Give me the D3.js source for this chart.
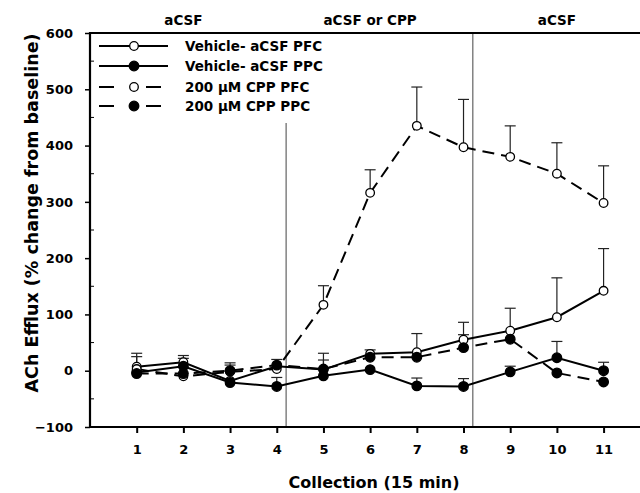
<!DOCTYPE html>
<html>
<head>
<meta charset="utf-8">
<script src="https://cdn.jsdelivr.net/npm/d3@7"></script>
<style>
  body { margin: 0; background: #fff; }
  text { font-family: "DejaVu Sans", sans-serif; font-weight: bold; fill: #000; }
</style>
</head>
<body>
<svg id="chart" width="640" height="493"></svg>
<script>
// collections (15 min each)
const collections = [1, 2, 3, 4, 5, 6, 7, 8, 9, 10, 11]
const yTicks = [-100, 0, 100, 200, 300, 400, 500, 600]

// % change from baseline (err = upper SEM bar, 0 = none shown)
const vehPFC    = [7, 15, -18, 8, 2, 30, 33, 55, 71, 95, 142]
const vehPFCerr = [24, 12, 0, 0, 29, 7, 33, 31, 40, 70, 75]
const vehPPC    = [-3, 8, -21, -28, -9, 2, -27, -28, -2, 23, 0]
const vehPPCerr = [0, 14, 0, 16, 0, 0, 14, 14, 10, 29, 15]
const cppPFC    = [3, -10, -2, 3, 117, 316, 435, 397, 380, 350, 298]
const cppPFCerr = [22, 0, 16, 0, 34, 41, 69, 85, 55, 55, 66]
const cppPPC    = [-5, -5, 0, 10, 3, 24, 24, 41, 56, -4, -20]
const cppPPCerr = [0, 0, 10, 10, 16, 0, 0, 23, 0, 0, 0]

const seriesNames = ["Vehicle- aCSF PFC", "Vehicle- aCSF PPC", "200 \u00b5M CPP PFC", "200 \u00b5M CPP PPC"]

// perfusion phases
const phaseBreaks = [4.2, 8.2]
const phaseNames = ["aCSF", "aCSF or CPP", "aCSF"]
const phaseCenters = [2, 6, 10]

const series = [
  { name: seriesNames[0], vals: vehPFC, err: vehPFCerr, dashed: false, filled: false },
  { name: seriesNames[1], vals: vehPPC, err: vehPPCerr, dashed: false, filled: true },
  { name: seriesNames[2], vals: cppPFC, err: cppPFCerr, dashed: true, filled: false },
  { name: seriesNames[3], vals: cppPPC, err: cppPPCerr, dashed: true, filled: true }
]

const svg = d3.select('#chart')
svg.append('rect').attr('width', 640).attr('height', 493).attr('fill', '#fff')

const plotL = 90, plotR = 640, plotT = 33, plotB = 427

const x = d3.scaleLinear().domain([0, 11.78]).range([plotL, plotR])
const y = d3.scaleLinear().domain([-100, 600]).range([plotB, plotT])

// phase divider lines
svg.selectAll('.phase').data(phaseBreaks).enter().append('line')
  .attr('x1', d => x(d)).attr('x2', d => x(d))
  .attr('y1', (d, i) => i == 0 ? 123 : plotT).attr('y2', plotB)
  .attr('stroke', '#444').attr('stroke-width', 1)

// phase labels on top
svg.selectAll('.phaseLabel').data(phaseNames).enter().append('text')
  .attr('x', (d, i) => x(phaseCenters[i]))
  .attr('y', 25)
  .attr('text-anchor', 'middle')
  .attr('font-size', '13.5px')
  .text(d => d)

// axes
const yAxis = d3.axisLeft(y).tickValues(yTicks).tickSize(5).tickPadding(12)
const gy = svg.append('g').attr('transform', `translate(${plotL},0)`).call(yAxis)
gy.select('.domain').remove()
gy.selectAll('line').attr('stroke', '#000').attr('stroke-width', 1.5)
gy.selectAll('text').attr('font-size', '13px').attr('font-family', 'DejaVu Sans').attr('font-weight', 'bold')

// minor ticks, inside
svg.selectAll('.minor').data(d3.range(-50, 600, 100)).enter().append('line')
  .attr('x1', plotL).attr('x2', plotL + 4)
  .attr('y1', d => y(d)).attr('y2', d => y(d))
  .attr('stroke', '#000').attr('stroke-width', 1)

const xAxis = d3.axisBottom(x).tickValues(collections).tickSize(6).tickPadding(12).tickFormat(d3.format('d'))
const gx = svg.append('g').attr('transform', `translate(0,${plotB})`).call(xAxis)
gx.select('.domain').remove()
gx.selectAll('line').attr('stroke', '#000').attr('stroke-width', 2)
gx.selectAll('text').attr('font-size', '13px').attr('font-family', 'DejaVu Sans').attr('font-weight', 'bold')

// frame: left, bottom, top
svg.append('path')
  .attr('d', `M${plotR},${plotT}H${plotL}V${plotB}H${plotR}`)
  .attr('fill', 'none').attr('stroke', '#000').attr('stroke-width', 2.2)

// axis titles
svg.append('text')
  .attr('transform', 'translate(38,213) rotate(-90)')
  .attr('text-anchor', 'middle')
  .attr('font-size', '17.5px')
  .text('ACh Efflux (% change from baseline)')

svg.append('text')
  .attr('x', 374).attr('y', 488)
  .attr('text-anchor', 'middle')
  .attr('font-size', '16px')
  .text('Collection (15 min)')

// error bars (upper only)
const capW = 5.5
series.forEach(s => {
  const g = svg.append('g')
  const pts = collections.map((c, i) => ({ c: c, v: s.vals[i], e: s.err[i] })).filter(p => p.e > 0)
  g.selectAll('line.eb').data(pts).enter().append('line')
    .attr('x1', p => x(p.c)).attr('x2', p => x(p.c))
    .attr('y1', p => y(p.v)).attr('y2', p => y(p.v + p.e))
    .attr('stroke', '#222').attr('stroke-width', 1.2)
  g.selectAll('line.cap').data(pts).enter().append('line')
    .attr('x1', p => x(p.c) - capW).attr('x2', p => x(p.c) + capW)
    .attr('y1', p => y(p.v + p.e)).attr('y2', p => y(p.v + p.e))
    .attr('stroke', '#222').attr('stroke-width', 1.2)
})

// lines + markers
const line = d3.line().x((d, i) => x(collections[i])).y(d => y(d))

series.forEach(s => {
  svg.append('path')
    .datum(s.vals)
    .attr('d', line)
    .attr('fill', 'none')
    .attr('stroke', '#000')
    .attr('stroke-width', 2)
    .attr('stroke-dasharray', s.dashed ? '12,7' : null)

  svg.selectAll(null).data(s.vals).enter().append('circle')
    .attr('cx', (d, i) => x(collections[i]))
    .attr('cy', d => y(d))
    .attr('r', s.filled ? 4.8 : 4.3)
    .attr('fill', s.filled ? '#000' : '#fff')
    .attr('stroke', '#000')
    .attr('stroke-width', 1.3)
})

// legend
const legRows = [46, 66, 87, 106]
const leg = svg.append('g')
series.forEach((s, i) => {
  const ly = legRows[i]
  leg.append('line')
    .attr('x1', 99).attr('x2', s.dashed ? 161 : 168)
    .attr('y1', ly).attr('y2', ly)
    .attr('stroke', '#000').attr('stroke-width', 2)
    .attr('stroke-dasharray', s.dashed ? '15,32,15' : null)
  leg.append('circle')
    .attr('cx', 134).attr('cy', ly)
    .attr('r', s.filled ? 4.8 : 4.3)
    .attr('fill', s.filled ? '#000' : '#fff')
    .attr('stroke', '#000').attr('stroke-width', 1.3)
  leg.append('text')
    .attr('x', 185).attr('y', ly + 5)
    .attr('font-size', '13.5px')
    .text(s.name)
})
</script>
</body>
</html>
